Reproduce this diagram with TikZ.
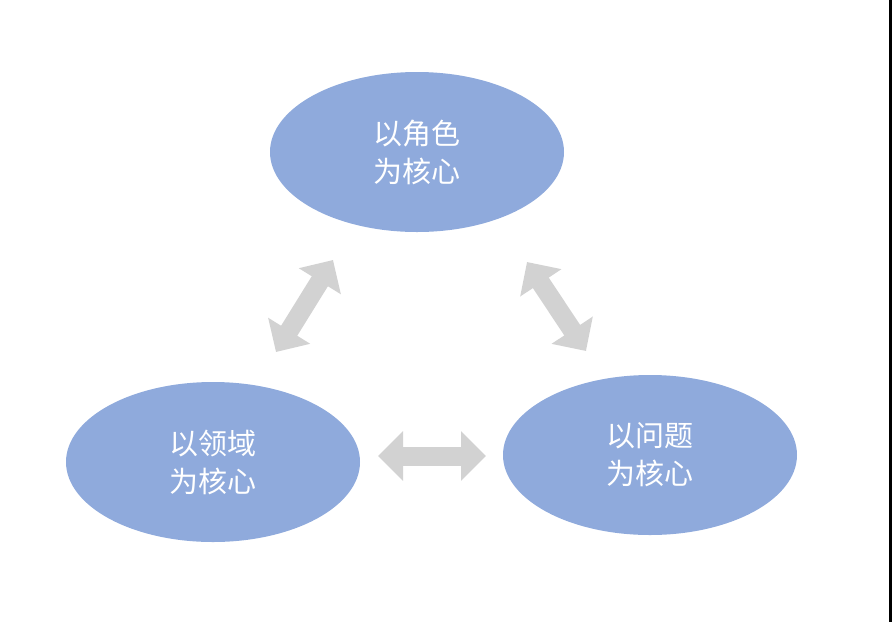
\documentclass[tikz,border=0pt]{standalone}
\usepackage{fontspec}
\newfontfamily\cjk{Noto Sans CJK SC}
\usetikzlibrary{arrows.meta,shapes.geometric}
\definecolor{ovalblue}{RGB}{143,170,220}
\definecolor{arrowgray}{RGB}{210,210,210}

\begin{document}
\begin{tikzpicture}[x=1pt, y=-1pt,
    oval/.style={ellipse, fill=ovalblue, draw=none, minimum width=294pt, minimum height=160pt,
      inner sep=0pt, align=center, text=white, font=\cjk\fontsize{29}{38}\selectfont},
    blockarrow/.style={{Triangle[width=48pt,length=25pt]}-{Triangle[width=48pt,length=25pt]},
      line width=19pt, draw=arrowgray}
  ]
    \useasboundingbox (0,0) rectangle (892,622);
    \fill[black] (889,0) rectangle (892,622);
    \node[oval] (role) at (417,152) {以角色\\为核心};
    \node[oval] (domain) at (213,462) {以领域\\为核心};
    \node[oval] (problem) at (650,455) {以问题\\为核心};
    \coordinate (rl1) at (333,260);
    \coordinate (rl2) at (276,352);
    \coordinate (rp1) at (527,262);
    \coordinate (rp2) at (586,351);
    \coordinate (dp1) at (378,456);
    \coordinate (dp2) at (486,456);
    \draw[blockarrow] (rl1) -- (rl2);
    \draw[blockarrow] (rp1) -- (rp2);
    \draw[blockarrow] (dp1) -- (dp2);
  \end{tikzpicture}
\end{document}
